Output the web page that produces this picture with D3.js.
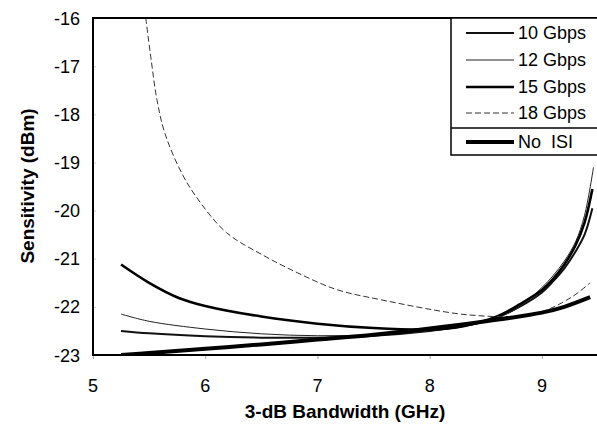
<!DOCTYPE html>
<html>
<head>
<meta charset="utf-8">
<script src="https://cdn.jsdelivr.net/npm/d3@7"></script>
<style>
  body { margin: 0; background: #fff; }
  svg { font-family: "Liberation Sans", Arial, sans-serif; }
</style>
</head>
<body>
<svg width="597" height="432"></svg>
<script>
// data (bandwidth GHz, sensitivity dBm)
var xTicks = [5, 6, 7, 8, 9];
var yTicks = [-16, -17, -18, -19, -20, -21, -22, -23];

var bw10 = [5.25, 5.5, 6, 6.5, 7, 7.5, 8, 8.3, 8.6, 8.8, 9.0, 9.1, 9.2, 9.3, 9.38, 9.45];
var s10  = [-22.5, -22.55, -22.61, -22.64, -22.64, -22.6, -22.5, -22.4, -22.22, -22.0, -21.7, -21.47, -21.2, -20.85, -20.5, -19.95];

var bw12 = [5.25, 5.5, 6, 6.5, 7, 7.5, 8, 8.3, 8.6, 8.8, 9.0, 9.1, 9.2, 9.3, 9.38, 9.46];
var s12  = [-22.15, -22.3, -22.46, -22.56, -22.6, -22.58, -22.5, -22.4, -22.22, -22.0, -21.6, -21.35, -21.05, -20.65, -20.1, -19.1];

var bw15 = [5.25, 5.5, 5.77, 6, 6.5, 7, 7.5, 8, 8.3, 8.6, 8.8, 9.0, 9.1, 9.2, 9.3, 9.38, 9.45];
var s15  = [-21.12, -21.5, -21.82, -21.98, -22.2, -22.35, -22.44, -22.47, -22.4, -22.2, -21.95, -21.65, -21.42, -21.12, -20.72, -20.25, -19.55];

var bw18 = [5.47, 5.52, 5.57, 5.64, 5.79, 5.94, 6.19, 6.51, 6.82, 7.17, 7.56, 8.18, 8.42, 8.7, 9.0, 9.27, 9.43];
var s18  = [-16.0, -16.9, -17.7, -18.39, -19.22, -19.78, -20.46, -20.92, -21.29, -21.64, -21.85, -22.12, -22.18, -22.2, -22.1, -21.79, -21.5];

var bwNo = [5.25, 5.5, 6, 6.5, 7, 7.5, 8, 8.5, 9.0, 9.2, 9.43];
var sNo  = [-23.0, -22.96, -22.87, -22.78, -22.68, -22.58, -22.45, -22.3, -22.12, -22.0, -21.8];

var names = ["10 Gbps", "12 Gbps", "15 Gbps", "18 Gbps", "No  ISI"];

var svg = d3.select("svg");
var mLeft = 93, mRight = 598, mTop = 18, mBottom = 355;

var x = d3.scaleLinear().domain([5, 9.5]).range([mLeft, mRight]);
var y = d3.scaleLinear().domain([-23, -16]).range([mBottom, mTop]);

// series styles
var series = [
  {name: names[0], xs: bw10, ys: s10, w: 2, color: "#111", dash: null},
  {name: names[1], xs: bw12, ys: s12, w: 1, color: "#222", dash: null},
  {name: names[2], xs: bw15, ys: s15, w: 2.6, color: "#000", dash: null},
  {name: names[3], xs: bw18, ys: s18, w: 1, color: "#333", dash: "6,3"},
  {name: names[4], xs: bwNo, ys: sNo, w: 4, color: "#000", dash: null}
];

svg.append("defs").append("clipPath").attr("id", "plot")
  .append("rect").attr("x", mLeft).attr("y", mTop).attr("width", mRight - mLeft).attr("height", mBottom - mTop);

var line = d3.line()
  .x(function(d){ return x(d[0]); })
  .y(function(d){ return y(d[1]); })
  .curve(d3.curveCatmullRom.alpha(0.5));

// faint tick marks
svg.append("g").attr("transform", "translate(0," + mBottom + ")")
  .call(d3.axisBottom(x).tickValues(xTicks).tickSize(4).tickFormat(""))
  .call(function(g){ g.select(".domain").remove(); g.selectAll("line").attr("stroke", "#aaa"); });
svg.append("g").attr("transform", "translate(" + mLeft + ",0)")
  .call(d3.axisRight(y).tickValues(yTicks).tickSize(3).tickFormat(""))
  .call(function(g){ g.select(".domain").remove(); g.selectAll("line").attr("stroke", "#ccc"); });

// curves
var curves = svg.append("g").attr("clip-path", "url(#plot)");
series.forEach(function(s){
  var pts = s.xs.map(function(v, i){ return [v, s.ys[i]]; });
  curves.append("path")
    .attr("d", line(pts))
    .attr("fill", "none")
    .attr("stroke", s.color)
    .attr("stroke-width", s.w)
    .attr("stroke-dasharray", s.dash);
});

// frame: left, top, bottom
svg.append("path")
  .attr("d", "M" + mRight + "," + mTop + "H" + mLeft + "V" + mBottom + "H" + mRight)
  .attr("fill", "none").attr("stroke", "#000").attr("stroke-width", 2);

// tick labels
svg.append("g").selectAll("text").data(yTicks).enter().append("text")
  .attr("x", 80).attr("y", function(d){ return y(d) + 6.5; })
  .attr("text-anchor", "end").attr("font-size", 18)
  .text(function(d){ return d; });

svg.append("g").selectAll("text").data(xTicks).enter().append("text")
  .attr("x", function(d){ return x(d); }).attr("y", 392)
  .attr("text-anchor", "middle").attr("font-size", 18)
  .text(function(d){ return d; });

// axis titles
svg.append("text")
  .attr("x", 345).attr("y", 418)
  .attr("text-anchor", "middle").attr("font-size", 19).attr("font-weight", "bold")
  .text("3-dB Bandwidth (GHz)");

svg.append("text")
  .attr("transform", "translate(34,186) rotate(-90)")
  .attr("text-anchor", "middle").attr("font-size", 19).attr("font-weight", "bold")
  .text("Sensitivity (dBm)");

// legend
var lg = svg.append("g");
lg.append("rect").attr("x", 451).attr("y", mTop).attr("width", 150).attr("height", 137)
  .attr("fill", "#fff").attr("stroke", "#000").attr("stroke-width", 1.5);
lg.append("line").attr("x1", 451).attr("x2", 600).attr("y1", 128).attr("y2", 128)
  .attr("stroke", "#000").attr("stroke-width", 1.5);

var rowY = [33, 60, 87, 113, 142];
series.forEach(function(s, i){
  lg.append("line")
    .attr("x1", 466).attr("x2", 514)
    .attr("y1", rowY[i]).attr("y2", rowY[i])
    .attr("stroke", s.color).attr("stroke-width", s.w)
    .attr("stroke-dasharray", s.dash);
  lg.append("text")
    .attr("x", 518).attr("y", rowY[i] + 6)
    .attr("font-size", 18)
    .style("white-space", "pre")
    .text(s.name);
});
</script>
</body>
</html>
